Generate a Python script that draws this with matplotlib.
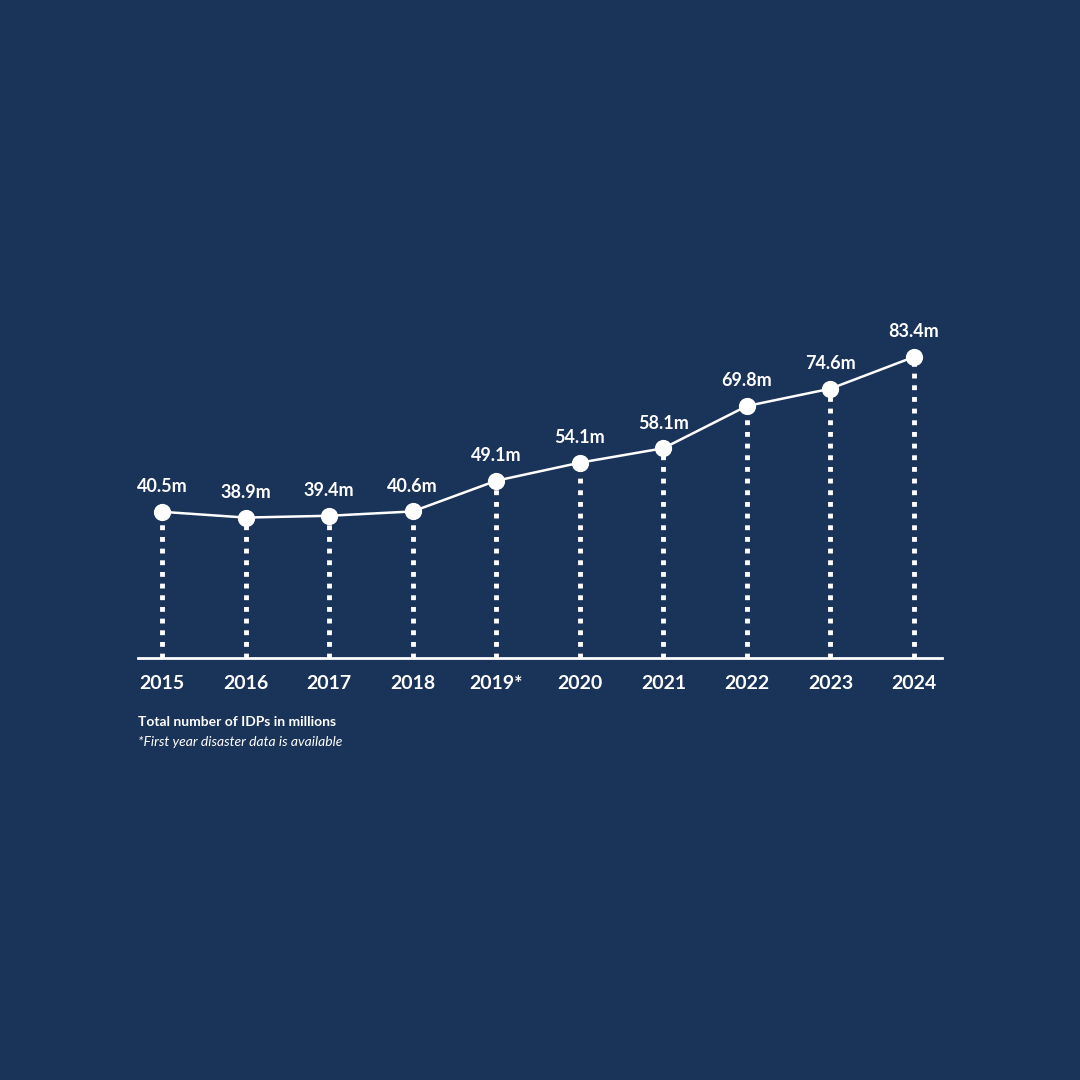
import matplotlib
matplotlib.use("Agg")
import matplotlib.pyplot as plt

years = ["2015","2016","2017","2018","2019*","2020","2021","2022","2023","2024"]
values = [40.5,38.9,39.4,40.6,49.1,54.1,58.1,69.8,74.6,83.4]
labels = ["40.5m","38.9m","39.4m","40.6m","49.1m","54.1m","58.1m","69.8m","74.6m","83.4m"]

bg = "#1a3358"
fig = plt.figure(figsize=(10.8,10.8), dpi=100, facecolor=bg)
ax = fig.add_axes([138/1080, 1-658/1080, (942-138)/1080, 361/1080])
ax.set_facecolor(bg)
x = list(range(len(values)))
ax.set_xlim(-0.287, 9.335)
ax.set_ylim(0, 100)
for xi, v in zip(x, values):
    ax.plot([xi, xi], [0, v], color="white", lw=3.5, linestyle=(0, (1, 1.4)), solid_capstyle="butt")
ax.plot(x, values, color="white", lw=1.8, zorder=3)
ax.scatter(x, values, s=130, color="white", zorder=4)
for xi, v, l in zip(x, values, labels):
    ax.annotate(l, (xi, v), xytext=(0, 12), textcoords="offset points", ha="center", va="bottom",
                color="white", fontsize=13, fontweight="bold", family="Lato")
for s in ["top","right","left"]:
    ax.spines[s].set_visible(False)
ax.spines["bottom"].set_color("white")
ax.spines["bottom"].set_linewidth(2)
ax.set_yticks([])
ax.set_xticks(x)
ax.set_xticklabels(years, color="white", fontsize=14, fontweight="bold", family="Lato")
ax.tick_params(axis="x", length=0, pad=12)
fig.text(138/1080, 1-722/1080, "Total number of IDPs in millions", color="white", fontsize=10,
         fontweight="bold", family="Lato", va="center")
fig.text(138/1080, 1-742/1080, "*First year disaster data is available", color="white", fontsize=10,
         style="italic", family="Lato", va="center")
fig.savefig("out.png", facecolor=bg)
